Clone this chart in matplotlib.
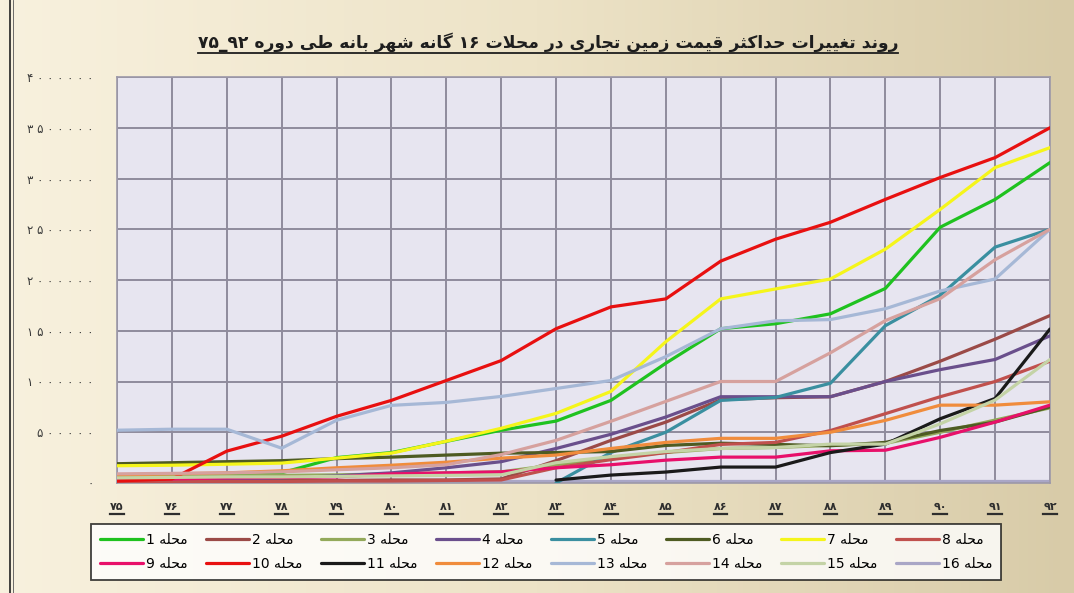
import numpy as np
import matplotlib
matplotlib.use('Agg')
import matplotlib.pyplot as plt
from matplotlib.lines import Line2D
from matplotlib.colors import LinearSegmentedColormap

# ---- data ----
nan = np.nan
years = ['75', '76', '77', '78', '79', '80', '81', '82', '83',
         '84', '85', '86', '87', '88', '89', '90', '91', '92']

m1 = [80000, 85000, 90000, 100000, 250000, 300000, 410000, 520000, 610000,
      814000, 1180000, 1520000, 1569000, 1667000, 1917000, 2520000, 2794000, 3157000]
m2 = [20000, 20000, 20000, 25000, 25000, 30000, 30000, 40000, 220000,
      420000, 600000, 820000, 840000, 850000, 1000000, 1200000, 1417000, 1650000]
m3 = [60000, 65000, 70000, 75000, 80000, 90000, 100000, 110000, 180000,
      250000, 300000, 340000, 350000, 370000, 390000, 500000, 620000, 740000]
m4 = [20000, 30000, 40000, 50000, 70000, 100000, 150000, 210000, 340000,
      480000, 650000, 850000, 850000, 850000, 1000000, 1117000, 1217000, 1450000]
m5 = [nan, nan, nan, nan, nan, nan, nan, nan, 0,
      300000, 500000, 814000, 843000, 983000, 1550000, 1850000, 2324000, 2500000]
m6 = [190000, 200000, 210000, 220000, 240000, 255000, 275000, 294000, 300000,
      310000, 370000, 392000, 380000, 367000, 400000, 517000, 600000, 750000]
m7 = [170000, 175000, 185000, 196000, 245000, 294000, 412000, 539000, 686000,
      902000, 1392000, 1814000, 1912000, 2010000, 2304000, 2696000, 3108000, 3304000]
m8 = [15000, 15000, 15000, 15000, 20000, 20000, 25000, 30000, 150000,
      230000, 300000, 380000, 400000, 517000, 683000, 850000, 1000000, 1200000]
m9 = [30000, 40000, 50000, 55000, 60000, 90000, 100000, 110000, 150000,
      180000, 225000, 255000, 255000, 317000, 323000, 450000, 600000, 767000]
m10 = [20000, 40000, 314000, 461000, 657000, 814000, 1010000, 1206000, 1520000,
       1735000, 1814000, 2186000, 2402000, 2569000, 2794000, 3010000, 3206000, 3500000]
m11 = [nan, nan, nan, nan, nan, nan, nan, nan, 29000,
       78000, 108000, 157000, 157000, 300000, 383000, 633000, 833000, 1517000]
m12 = [80000, 90000, 100000, 120000, 150000, 175000, 205000, 245000, 275000,
       340000, 400000, 440000, 440000, 500000, 617000, 767000, 767000, 800000]
m13 = [520000, 530000, 530000, 343000, 618000, 765000, 794000, 853000, 931000,
       1010000, 1245000, 1520000, 1598000, 1610000, 1717000, 1892000, 2010000, 2500000]
m14 = [90000, 95000, 100000, 110000, 130000, 150000, 180000, 280000, 420000,
       608000, 804000, 1000000, 1000000, 1283000, 1600000, 1817000, 2200000, 2500000]
m15 = [50000, 55000, 60000, 60000, 65000, 70000, 75000, 80000, 200000,
       260000, 310000, 340000, 350000, 383000, 383000, 583000, 817000, 1217000]
m16 = [15000, 15000, 12000, 12000, 12000, 15000, 15000, 15000, 15000,
       15000, 15000, 15000, 15000, 15000, 15000, 15000, 15000, 15000]

series = [m1, m2, m3, m4, m5, m6, m7, m8, m9, m10, m11, m12, m13, m14, m15, m16]
colors = ['#1FC21F', '#9B4A47', '#93A95A', '#6A4F8C', '#3A8FA0', '#4E5B22',
          '#F5F51A', '#C0504D', '#E8106A', '#E81010', '#1A1A1A', '#F08C3C',
          '#A6B8D6', '#D6A19E', '#C4D3A6', '#A9A6C6']

title_text = 'روند تغییرات حداکثر قیمت زمین تجاری در محلات ۱۶ گانه شهر بانه طی دوره ۹۲_۷۵'
label_word = 'محله'

# ---- minimal arabic/persian shaping (matplotlib has no bidi) ----
FORMS = {
    'ا': ('\uFE8D', '\uFE8E'), 'د': ('\uFEA9', '\uFEAA'), 'ر': ('\uFEAD', '\uFEAE'),
    'ز': ('\uFEAF', '\uFEB0'), 'و': ('\uFEED', '\uFEEE'),
    'ب': ('\uFE8F', '\uFE90', '\uFE91', '\uFE92'), 'ت': ('\uFE95', '\uFE96', '\uFE97', '\uFE98'),
    'ث': ('\uFE99', '\uFE9A', '\uFE9B', '\uFE9C'), 'ج': ('\uFE9D', '\uFE9E', '\uFE9F', '\uFEA0'),
    'ح': ('\uFEA1', '\uFEA2', '\uFEA3', '\uFEA4'), 'ش': ('\uFEB5', '\uFEB6', '\uFEB7', '\uFEB8'),
    'ط': ('\uFEC1', '\uFEC2', '\uFEC3', '\uFEC4'), 'غ': ('\uFECD', '\uFECE', '\uFECF', '\uFED0'),
    'ق': ('\uFED5', '\uFED6', '\uFED7', '\uFED8'), 'ل': ('\uFEDD', '\uFEDE', '\uFEDF', '\uFEE0'),
    'م': ('\uFEE1', '\uFEE2', '\uFEE3', '\uFEE4'), 'ن': ('\uFEE5', '\uFEE6', '\uFEE7', '\uFEE8'),
    'ه': ('\uFEE9', '\uFEEA', '\uFEEB', '\uFEEC'), 'ک': ('\uFB8E', '\uFB8F', '\uFB90', '\uFB91'),
    'گ': ('\uFB92', '\uFB93', '\uFB94', '\uFB95'), 'ی': ('\uFBFC', '\uFBFD', '\uFBFE', '\uFBFF'),
}


def shape_word(word):
    res = []
    n = len(word)
    i = 0
    while i < n:
        c = word[i]
        prev = word[i - 1] if i > 0 else None
        prev_joins = prev in FORMS and len(FORMS[prev]) == 4
        if c == 'ل' and i + 1 < n and word[i + 1] == 'ا':
            res.append('\uFEFC' if prev_joins else '\uFEFB')
            i += 2
            continue
        if c not in FORMS:
            res.append(c)
            i += 1
            continue
        f = FORMS[c]
        nxt = word[i + 1] if i + 1 < n else None
        next_joins = len(f) == 4 and nxt in FORMS
        if prev_joins and next_joins:
            res.append(f[3])
        elif prev_joins:
            res.append(f[1])
        elif next_joins:
            res.append(f[2])
        else:
            res.append(f[0])
        i += 1
    return ''.join(reversed(res))


def rtl(text):
    out = []
    for w in text.split(' '):
        if any(ch in FORMS for ch in w):
            out.append(shape_word(w))
        else:
            out.append('_'.join(reversed(w.split('_'))))
    return ' '.join(reversed(out))


def fa_digits(s):
    return str(s).translate(str.maketrans('0123456789', '۰۱۲۳۴۵۶۷۸۹'))


# ---- figure ----
fig = plt.figure(figsize=(10.74, 5.93), dpi=100)

# beige gradient background
bg = fig.add_axes([0, 0, 1, 1], zorder=-10)
cmap = LinearSegmentedColormap.from_list('bg', ['#F8F1DE', '#EDE3C7', '#D8CBA8'])
grad = np.linspace(0, 1, 256).reshape(1, -1)
bg.imshow(grad, aspect='auto', cmap=cmap, extent=[0, 1, 0, 1])
bg.axis('off')
fig.add_artist(Line2D([0.009, 0.009], [0, 1], color='#222222', lw=1.2))
fig.add_artist(Line2D([0.012, 0.012], [0, 1], color='#555555', lw=0.6))

ax = fig.add_axes([117 / 1074, 1 - 483 / 593, (1050 - 117) / 1074, (483 - 77) / 593])
ax.set_facecolor('#E7E5F0')

x = np.arange(len(years))
handles = []
for i, (vals, col) in enumerate(zip(series, colors)):
    ln, = ax.plot(x, vals, color=col, lw=2.3, solid_capstyle='round',
                  zorder=3 if i != 15 else 2.5)
    handles.append(ln)

ax.set_xlim(0, len(years) - 1)
ax.set_ylim(0, 4000000)
ax.set_xticks(x)
ax.set_yticks(np.arange(0, 4000001, 500000))
ax.grid(True, color='#8F8B9C', lw=1.4, zorder=1)
ax.tick_params(length=0)
for s in ax.spines.values():
    s.set_color('#9C98A8')
    s.set_linewidth(1.2)

ax.set_xticklabels([fa_digits(y) for y in years], fontsize=8, fontweight='bold',
                   color='#2E2E2E')
ax.tick_params(axis='x', pad=14)
ax.set_yticklabels([' '.join(fa_digits(int(v))) for v in ax.get_yticks()],
                   fontsize=8.5, color='#3A3A3A')
ax.tick_params(axis='y', pad=17)

title = fig.text(548 / 1074, 1 - 42 / 593, rtl(title_text), ha='center', va='center',
                 fontsize=12.3, fontweight='bold', color='#1E1E1E')

# legend: 2 rows, 1..8 on the first row
order = []
for j in range(8):
    order += [j, j + 8]
leg = fig.legend([handles[k] for k in order],
                 [str(k + 1) + ' ' + rtl(label_word) for k in order],
                 ncol=8, loc='center', bbox_to_anchor=(546 / 1074, 1 - 552 / 593),
                 fontsize=10, frameon=True, fancybox=False, edgecolor='#111111',
                 handlelength=3.1, handletextpad=0.2, columnspacing=1.35,
                 borderpad=0.6, labelspacing=0.75)
leg.get_frame().set_linewidth(1.3)
leg.get_frame().set_facecolor('white')

# underline title and x labels
fig.canvas.draw()
r = fig.canvas.get_renderer()
W, H = fig.bbox.width, fig.bbox.height
bb = title.get_window_extent(r)
fig.add_artist(Line2D([bb.x0 / W, bb.x1 / W], [(bb.y0 - 1) / H] * 2, color='#1E1E1E', lw=1.3))
for t in ax.get_xticklabels():
    bb = t.get_window_extent(r)
    fig.add_artist(Line2D([bb.x0 / W, bb.x1 / W], [(bb.y0 - 2) / H] * 2, color='#2E2E2E', lw=1.6))

fig.savefig('out.png', dpi=100)
